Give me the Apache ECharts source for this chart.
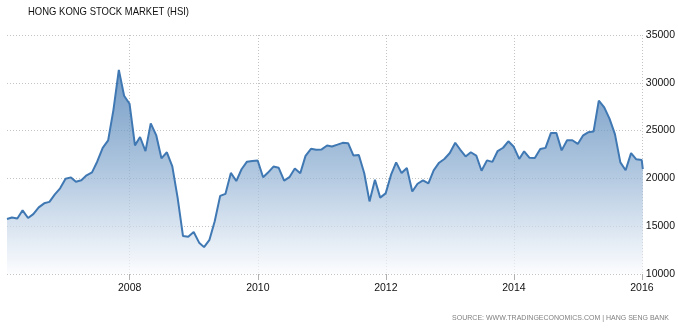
<!DOCTYPE html>
<html>
<head>
<meta charset="utf-8">
<script src="https://cdn.jsdelivr.net/npm/echarts@6/dist/echarts.min.js"></script>
<style>
html,body{margin:0;padding:0;background:#fff;}
#chart{width:678px;height:330px;}
</style>
</head>
<body>
<div id="chart"></div>
<script>
// Monthly closing values of the Hang Seng Index (end of month)
const startYear = 2006;
const v2006 = [15753,15918,15805,16661,15857,16267,16971,17392,17543,18324,18960,19965];
const v2007 = [20107,19652,19801,20319,20634,21773,23185,23984,27143,31352,28643,27813];
const v2008 = [23456,24332,22849,25755,24533,22102,22731,21262,18016,13969,13888,14387];
const v2009 = [13278,12812,13576,15521,18171,18379,20573,19724,20955,21753,21822,21873];
const v2010 = [20122,20609,21239,21108,19765,20129,21030,20537,22359,23096,23007,23035];
const v2011 = [23447,23338,23528,23720,23684,22398,22440,20535,17592,19864,17989,18434];
const v2012 = [20390,21680,20556,21095,18630,19441,19797,19483,20840,21642,22030,22657];
const v2013 = [23730,23020,22300,22737,22392,20803,21883,21731,22860,23206,23881,23306];
const v2014 = [22035,22837,22151,22134,23082,23191,24757,24742,22933,23998,23987,23605];
const v2015 = [24507,24824,24901,28133,27424,26250,24636,21671,20846,22640,21996,21914];
// latest (partial January 2016) reading
const lastDate = [2016, 0, 6];
const lastValue = 20980;

const tickYears = [2008, 2010, 2012, 2014, 2016];
const yTicks = [10000, 15000, 20000, 25000, 30000, 35000];
const titleText = 'HONG KONG STOCK MARKET (HSI)';
const sourceText = 'SOURCE: WWW.TRADINGECONOMICS.COM | HANG SENG BANK';

const yearly = [v2006, v2007, v2008, v2009, v2010, v2011, v2012, v2013, v2014, v2015];
const data = [];
yearly.forEach((vals, yi) => {
  vals.forEach((v, m) => {
    const d = Date.UTC(startYear + yi, m + 1, 0);
    data.push([d, v]);
  });
});
const lastTs = Date.UTC(lastDate[0], lastDate[1], lastDate[2]);
data.push([lastTs, lastValue]);

const tickTs = tickYears.map(y => Date.UTC(y, 0, 1));

// condensed title: measure and squeeze horizontally to the reference width
const titleFont = "11px 'Liberation Sans', Arial, sans-serif";
const mc = document.createElement('canvas').getContext('2d');
mc.font = titleFont;
const titleW = mc.measureText(titleText).width;
const titleScale = 161 / titleW;

const chart = echarts.init(document.getElementById('chart'), null, {renderer: 'canvas'});
const gridLine = {show: true, lineStyle: {color: '#c4c4c4', width: 1, type: [1, 2]}};
chart.setOption({
  animation: false,
  backgroundColor: '#fff',
  graphic: [
    {
      type: 'text',
      x: 28, y: 12,
      scaleX: titleScale,
      style: {text: titleText, font: titleFont, fill: '#111', textVerticalAlign: 'middle', verticalAlign: 'middle'}
    }
  ],
  title: [
    {
      text: sourceText,
      right: 9, top: 315, padding: 0,
      textStyle: {fontFamily: "'Liberation Sans', Arial, sans-serif", fontSize: 7, fontWeight: 'normal', color: '#808080'}
    }
  ],
  grid: {left: 7, right: 33, top: 35, bottom: 56, containLabel: false},
  xAxis: {
    type: 'value',
    min: data[0][0],
    max: lastTs,
    z: 3,
    axisLine: {show: false},
    axisTick: {show: true, customValues: tickTs, length: 6, lineStyle: {color: '#b0b0b0'}},
    axisLabel: {
      customValues: tickTs,
      margin: 9,
      fontFamily: "'Liberation Sans', Arial, sans-serif",
      fontSize: 10.5,
      color: '#111',
      formatter: v => String(new Date(v).getUTCFullYear())
    },
    splitLine: gridLine
  },
  yAxis: {
    type: 'value',
    position: 'right',
    min: yTicks[0],
    max: yTicks[yTicks.length - 1],
    interval: 5000,
    z: 3,
    axisLine: {show: false},
    axisTick: {show: false},
    axisLabel: {
      margin: 3,
      fontFamily: "'Liberation Sans', Arial, sans-serif",
      fontSize: 10.5,
      color: '#111',
      formatter: v => String(v)
    },
    splitLine: gridLine
  },
  series: [{
    type: 'line',
    data: data,
    symbol: 'none',
    lineStyle: {color: '#3f78b3', width: 2},
    areaStyle: {
      color: new echarts.graphic.LinearGradient(0, 0, 0, 1, [
        {offset: 0, color: '#3a72ad'},
        {offset: 0.5, color: '#8eafd2'},
        {offset: 1, color: '#fbfcfe'}
      ])
    }
  }]
});
</script>
</body>
</html>
